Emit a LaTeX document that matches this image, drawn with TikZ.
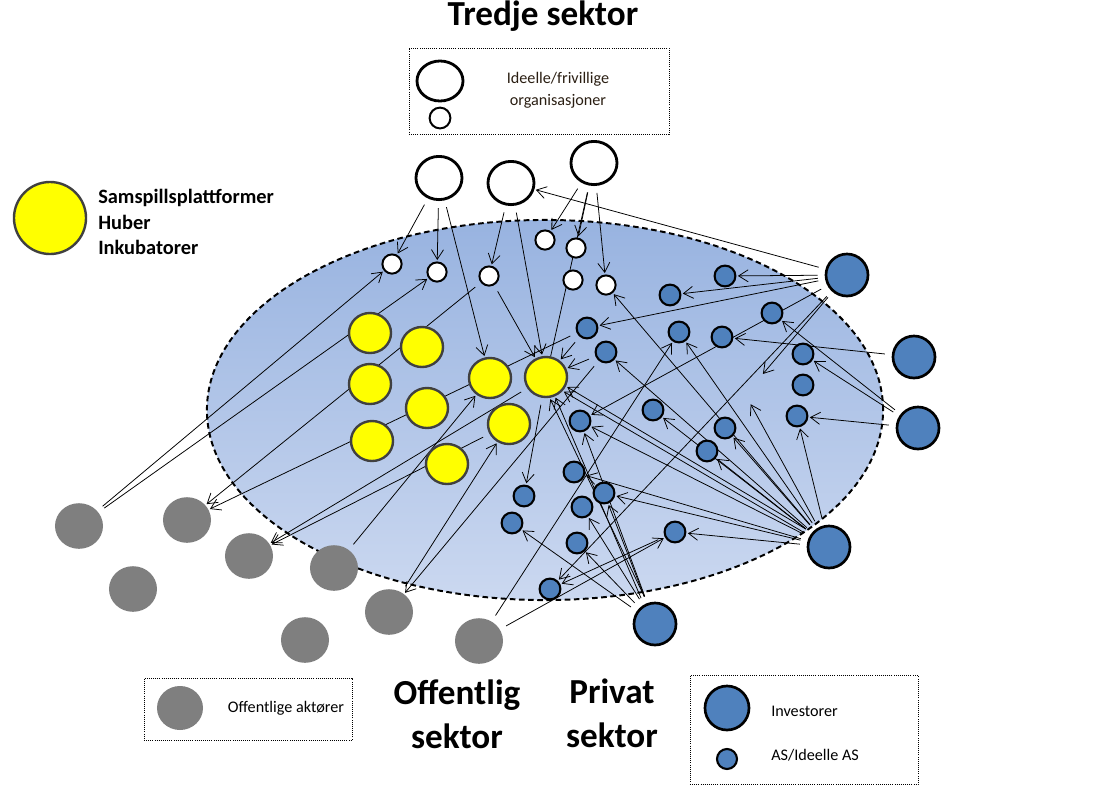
\documentclass[tikz,border=0pt]{standalone}
\usepackage{fontspec}
\setmainfont{Carlito}
\usetikzlibrary{arrows.meta, positioning, shapes.geometric, backgrounds}
\definecolor{arenatop}{HTML}{98B3E0}
\definecolor{arenabottom}{HTML}{CBD8F0}
\definecolor{invblue}{HTML}{4F81BD}
\definecolor{offgray}{HTML}{7F7F7F}
\definecolor{hubyellow}{HTML}{FFFF00}
\definecolor{hubrim}{HTML}{404040}
\definecolor{legink}{HTML}{2A1E12}
\tikzset{
  bigwhite/.style={ellipse, draw=black, fill=white, line width=2pt,
                   minimum width=1.15cm, minimum height=1.08cm, inner sep=0pt},
  smallwhite/.style={circle, draw=black, fill=white, line width=1.4pt,
                     minimum size=0.48cm, inner sep=0pt},
  hub/.style={ellipse, draw=hubrim, fill=hubyellow, line width=1.7pt,
              minimum width=1.05cm, minimum height=1.0cm, inner sep=0pt},
  pubnode/.style={ellipse, fill=offgray, minimum width=1.2cm, minimum height=1.14cm, inner sep=0pt},
  investor/.style={circle, draw=black, fill=invblue, line width=1.9pt,
                   minimum size=1.05cm, inner sep=0pt},
  asnode/.style={circle, draw=black, fill=invblue, line width=1.5pt,
                 minimum size=0.52cm, inner sep=0pt},
  legbox/.style={draw=black, densely dotted, line width=0.5pt, inner sep=0pt},
  legtext/.style={font=\fontsize{11.5}{15.5}\selectfont, inner sep=0pt},
  sectortext/.style={font=\fontsize{25}{31}\selectfont\bfseries, align=center, inner sep=0pt},
  arr/.style={-{Straight Barb[length=2.4mm,width=3mm]}, line width=0.55pt,
              shorten <=5pt, shorten >=1pt},
  ln/.style={line width=0.55pt, shorten <=5pt},
}
\begin{document}
\begin{tikzpicture}[x=0.025cm, y=-0.025cm, line join=round]
  \useasboundingbox (0,0) rectangle (1112,791);

  %% ── Titles and legends ──
  \node[sectortext] (tredje) at (543,16) {Tredje sektor};
  \node[sectortext] (offentlig) at (457,714) {Offentlig\\sektor};
  \node[sectortext] (privat) at (612,713) {Privat\\sektor};

  \node[legbox, minimum width=6.5cm, minimum height=2.15cm] (tsbox) at (539,91) {};
  \node[bigwhite, minimum width=1.15cm, minimum height=1.0cm] (legT) at (440,81) {};
  \node[smallwhite, minimum size=0.52cm] (legTs) at (440,118) {};
  \node[legtext, legink, align=center] (legTtext) at (558,90) {Ideelle/frivillige\\organisasjoner};

  \node[hub, minimum width=1.8cm, minimum height=1.8cm] (legH) at (50,218) {};
  \node[anchor=west, align=left, inner sep=0pt,
        font=\fontsize{14.5}{18}\selectfont\bfseries] (legHtext) at (98,222)
        {Samspillsplattformer\\Huber\\Inkubatorer};

  \node[legbox, minimum width=5.2cm, minimum height=1.55cm] (offbox) at (248,709) {};
  \node[pubnode, minimum width=1.15cm, minimum height=1.1cm] (legG) at (180,708) {};
  \node[legtext] (legGtext) at (286,708) {Offentlige aktører};

  \node[legbox, minimum width=5.7cm, minimum height=2.72cm] (privbox) at (804,730) {};
  \node[investor, minimum size=1.1cm] (legI) at (727,708) {};
  \node[asnode, minimum size=0.5cm] (legA) at (727,759) {};
  \node[legtext, anchor=west] (legItext) at (771,711) {Investorer};
  \node[legtext, anchor=west] (legAtext) at (771,755) {AS/Ideelle AS};

  %% ── Third sector ──
  \node[bigwhite] (T1) at (439,178) {};
  \node[bigwhite] (T2) at (511,183) {};
  \node[bigwhite] (T3) at (594,163) {};
  \node[smallwhite] (w1) at (392,264) {};
  \node[smallwhite] (w2) at (437,272) {};
  \node[smallwhite] (w3) at (489,276) {};
  \node[smallwhite] (w4) at (545,240) {};
  \node[smallwhite] (w5) at (576,248) {};
  \node[smallwhite] (w6) at (573,280) {};
  \node[smallwhite] (w7) at (606,285) {};

  %% ── Hubs ──
  \node[hub] (y1) at (370,333) {};
  \node[hub] (y2) at (422,347) {};
  \node[hub] (y3) at (370,384) {};
  \node[hub] (y4) at (427,408) {};
  \node[hub] (y5) at (372,441) {};
  \node[hub] (y6) at (490,378) {};
  \node[hub] (y7) at (546,377) {};
  \node[hub] (y8) at (509,424) {};
  \node[hub] (y9) at (447,464) {};

  %% ── Public actors ──
  \node[pubnode] (g1) at (79,526) {};
  \node[pubnode] (g2) at (187,520) {};
  \node[pubnode] (g3) at (249,556) {};
  \node[pubnode] (g4) at (133,589) {};
  \node[pubnode] (g5) at (334,568) {};
  \node[pubnode] (g6) at (389,612) {};
  \node[pubnode] (g7) at (305,640) {};
  \node[pubnode] (g8) at (479,641) {};

  %% ── Private sector ──
  \node[investor] (I1) at (847,275) {};
  \node[investor] (I2) at (914,357) {};
  \node[investor] (I3) at (918,428) {};
  \node[investor] (I4) at (829,547) {};
  \node[investor] (I5) at (655,624) {};
  \node[asnode] (b1) at (725,276) {};
  \node[asnode] (b2) at (670,295) {};
  \node[asnode] (b3) at (772,313) {};
  \node[asnode] (b4) at (587,328) {};
  \node[asnode] (b5) at (679,332) {};
  \node[asnode] (b6) at (722,337) {};
  \node[asnode] (b7) at (606,352) {};
  \node[asnode] (b8) at (803,354) {};
  \node[asnode] (b9) at (803,385) {};
  \node[asnode] (b10) at (653,410) {};
  \node[asnode] (b11) at (797,416) {};
  \node[asnode] (b12) at (580,421) {};
  \node[asnode] (b13) at (725,428) {};
  \node[asnode] (b14) at (707,451) {};
  \node[asnode] (b15) at (574,472) {};
  \node[asnode] (b16) at (604,493) {};
  \node[asnode] (b17) at (524,496) {};
  \node[asnode] (b18) at (582,507) {};
  \node[asnode] (b19) at (512,523) {};
  \node[asnode] (b20) at (675,532) {};
  \node[asnode] (b21) at (577,543) {};
  \node[asnode] (b22) at (550,589) {};

  \coordinate (f1) at (762,375);
  \coordinate (f2) at (750,403);

  %% ── Arena and connections (behind the nodes) ──
  \begin{scope}[on background layer]
    \shade[top color=arenatop, bottom color=arenabottom] (545,410) ellipse (8.45cm and 4.75cm);
    \draw[line width=1.4pt, dash pattern=on 4pt off 2.5pt] (545,410) ellipse (8.45cm and 4.75cm);

    % third sector
    \draw[arr] (T1) -- (w1);
    \draw[arr] (T1) -- (w2);
    \draw[arr] (T1) -- (y6);
    \draw[arr] (T2) -- (w3);
    \draw[arr] (T2) -- (y7);
    \draw[arr] (T3) -- (w4);
    \draw[arr] (T3) -- (w5);
    \draw[arr] (T3) -- (w7);
    \draw[ln] (T3) -- (y7);
    \draw[arr] (w3) -- (y7);

    % public actors
    \draw[arr] (g1) -- (w1);
    \draw[arr] (g1) -- (w2);
    \draw[arr] (w3) -- (g2);
    \draw[arr] (b4) -- (g2);
    \draw[arr] (y7) -- (g3);
    \draw[arr] (y8) -- (g3);
    \draw[arr] (g5) -- (y6);
    \draw[arr] (g6) -- (y8);
    \draw[arr] (b7) -- (g6);
    \draw[arr] (g8) -- (b20);
    \draw[arr] (g8) -- (b5);

    % investors
    \draw[arr] (I1) -- (T2);
    \draw[arr] (I1) -- (b1);
    \draw[arr] (I1) -- (b2);
    \draw[arr] (I1) -- (b4);
    \draw[arr] (I1) -- (b12);
    \draw[arr] (I1) -- (b22);
    \draw[arr] (I1) -- (f1);
    \draw[arr] (I2) -- (b6);
    \draw[arr] (I3) -- (b3);
    \draw[arr] (I3) -- (b8);
    \draw[arr] (I3) -- (b11);
    \draw[arr] (I4) -- (b20);
    \draw[arr] (I4) -- (b16);
    \draw[arr] (I4) -- (b15);
    \draw[arr] (I4) -- (b12);
    \draw[arr] (I4.150) -- (y7.-40);
    \draw[arr] (I4.140) -- (y7.-25);
    \draw[arr] (I4) -- (b10);
    \draw[arr] (I4) -- (b14);
    \draw[arr] (I4) -- (b13);
    \draw[arr] (I4) -- (f2);
    \draw[arr] (I4) -- (b11);
    \draw[arr] (I4) -- (b5);
    \draw[arr] (I4) -- (b7);
    \draw[arr] (I4) -- (w7);
    \draw[arr] (I5.110) -- (y7.-80);
    \draw[arr] (I5.120) -- (y7.-65);
    \draw[arr] (I5) -- (b12);
    \draw[arr] (I5) -- (b16);
    \draw[arr] (I5) -- (b18);
    \draw[arr] (I5) -- (b21);
    \draw[arr] (I5) -- (b19);

    % among the private and hub nodes
    \draw[arr] (b20) -- (b22);
    \draw[arr] (b4) -- (y7);
    \draw[arr] (b7) -- (y7);
    \draw[arr] (y7) -- (b17);
  \end{scope}
\end{tikzpicture}
\end{document}
